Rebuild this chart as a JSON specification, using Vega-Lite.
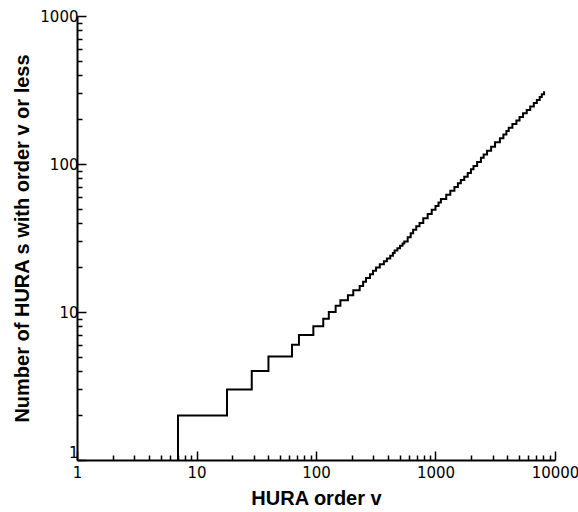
{
  "$schema": "https://vega.github.io/schema/vega-lite/v6.json",
  "width": 478,
  "height": 444,
  "autosize": "none",
  "padding": {"left": 77, "top": 16, "right": 23, "bottom": 52},
  "config": {
    "view": {"stroke": null},
    "axis": {
      "domainColor": "black",
      "domainWidth": 2,
      "tickColor": "black",
      "tickWidth": 1.5,
      "grid": false,
      "labelColor": "black",
      "labelFont": "DejaVu Sans",
      "labelFontSize": 15,
      "labelOverlap": false,
      "labelFlush": false,
      "titleColor": "black",
      "titleFont": "Liberation Sans",
      "titleFontSize": 20,
      "titleFontWeight": "bold"
    }
  },
  "data": {
    "values": [
      {"v": 7, "n": 1}, {"v": 7, "n": 2}, {"v": 18, "n": 3}, {"v": 29, "n": 4}, {"v": 40, "n": 5},
      {"v": 63, "n": 6}, {"v": 72, "n": 7}, {"v": 95, "n": 8}, {"v": 115, "n": 9}, {"v": 128, "n": 10},
      {"v": 146, "n": 11}, {"v": 160, "n": 12}, {"v": 185, "n": 13}, {"v": 205, "n": 14}, {"v": 232, "n": 15},
      {"v": 248, "n": 16}, {"v": 262, "n": 17}, {"v": 283, "n": 18}, {"v": 300, "n": 19}, {"v": 318, "n": 20},
      {"v": 342, "n": 21}, {"v": 370, "n": 22}, {"v": 392, "n": 23}, {"v": 418, "n": 24}, {"v": 440, "n": 25},
      {"v": 455, "n": 26}, {"v": 480, "n": 27}, {"v": 505, "n": 28}, {"v": 530, "n": 29}, {"v": 548, "n": 30},
      {"v": 585, "n": 32}, {"v": 620, "n": 34}, {"v": 650, "n": 36}, {"v": 690, "n": 38}, {"v": 735, "n": 40},
      {"v": 790, "n": 43}, {"v": 860, "n": 46}, {"v": 930, "n": 49}, {"v": 1000, "n": 52}, {"v": 1060, "n": 55},
      {"v": 1110, "n": 58}, {"v": 1230, "n": 62}, {"v": 1330, "n": 66}, {"v": 1440, "n": 70}, {"v": 1540, "n": 74},
      {"v": 1630, "n": 78}, {"v": 1740, "n": 82}, {"v": 1860, "n": 87}, {"v": 1980, "n": 92}, {"v": 2080, "n": 97},
      {"v": 2230, "n": 103}, {"v": 2400, "n": 110}, {"v": 2530, "n": 116}, {"v": 2700, "n": 123}, {"v": 2920, "n": 131},
      {"v": 3150, "n": 140}, {"v": 3460, "n": 149}, {"v": 3700, "n": 158}, {"v": 3920, "n": 167}, {"v": 4100, "n": 176},
      {"v": 4400, "n": 186}, {"v": 4750, "n": 197}, {"v": 5050, "n": 208}, {"v": 5400, "n": 220}, {"v": 5800, "n": 232},
      {"v": 6200, "n": 245}, {"v": 6650, "n": 258}, {"v": 7050, "n": 271}, {"v": 7450, "n": 284}, {"v": 7750, "n": 296},
      {"v": 8100, "n": 310}
    ]
  },
  "mark": {"type": "line", "interpolate": "step-after", "color": "black", "strokeWidth": 2},
  "encoding": {
    "x": {
      "field": "v",
      "type": "quantitative",
      "scale": {"type": "log", "domain": [1, 10000]},
      "axis": {
        "title": "HURA order v",
        "values": [1,2,3,4,5,6,7,8,9,10,20,30,40,50,60,70,80,90,100,200,300,400,500,600,700,800,900,1000,2000,3000,4000,5000,6000,7000,8000,9000,10000],
        "labelExpr": "indexof([1,10,100,1000,10000], datum.value) >= 0 ? format(datum.value, 'd') : ''",
        "tickSize": {"condition": {"test": "indexof([1,10,100,1000,10000], datum.value) >= 0", "value": -9}, "value": -5},
        "labelPadding": 14,
        "titlePadding": 4
      }
    },
    "y": {
      "field": "n",
      "type": "quantitative",
      "scale": {"type": "log", "domain": [1, 1000]},
      "axis": {
        "title": "Number of  HURA s with order v or less",
        "values": [1,2,3,4,5,6,7,8,9,10,20,30,40,50,60,70,80,90,100,200,300,400,500,600,700,800,900,1000],
        "labelExpr": "indexof([1,10,100,1000], datum.value) >= 0 ? format(datum.value, 'd') : ''",
        "tickSize": {"condition": {"test": "indexof([1,10,100,1000], datum.value) >= 0", "value": -9}, "value": -5},
        "labelOffset": {"condition": {"test": "datum.value == 1", "value": -8}, "value": 0},
        "labelPadding": 8,
        "titlePadding": 7
      }
    }
  }
}
